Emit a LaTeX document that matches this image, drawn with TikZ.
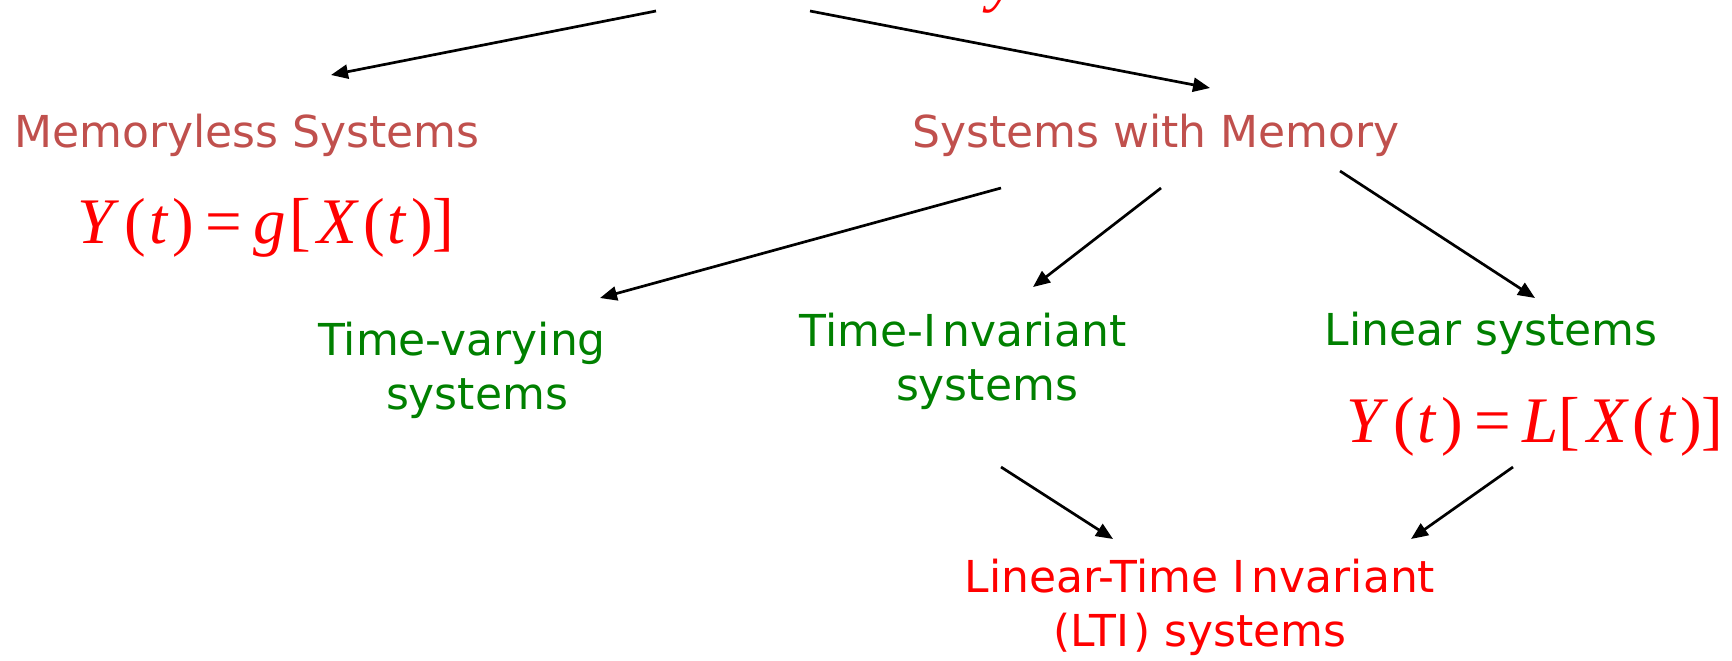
\documentclass[tikz,border=0pt]{standalone}
\usepackage{fontspec}
\setmainfont{DejaVu Sans}
\newfontfamily\eqfont{Liberation Serif}
\usetikzlibrary{arrows.meta}
\definecolor{brownred}{HTML}{C0504D}
\definecolor{leafgreen}{HTML}{008000}
\tikzset{
  lbl/.style={inner sep=0pt, anchor=base, align=center, font=\fontsize{22}{27}\selectfont},
  cat/.style={lbl, text=brownred},
  kind/.style={lbl, text=leafgreen},
  result/.style={lbl, text=red},
  formula/.style={inner sep=0pt, anchor=base, text=red, font=\eqfont\fontsize{32.5}{33}\selectfont},
  link/.style={line width=1.35pt, -{Triangle[length=8.5pt,width=7pt]}},
}
% Y(t) = f[X(t)] with spacing in the style of an equation editor
\newcommand{\sysmap}[1]{\textit{Y}\kern.08em(\kern.04em\textit{t}\kern.06em)\kern.18em=\kern.18em#1[\kern.1em\textit{X}\kern.06em(\kern.04em\textit{t}\kern.06em)]}
\begin{document}
\begin{tikzpicture}[x=0.5pt,y=-0.5pt]
  \useasboundingbox (0,0) rectangle (1732,660);

  % title, cut by the top edge
  \node[formula, font=\eqfont\fontsize{32}{32}\selectfont\itshape] (title) at (1003,-1) {y};

  % first level
  \node[cat] (mem)  at (247,147)  {Memoryless Systems};
  \node[cat] (wmem) at (1156,147) {Systems with Memory};
  \node[formula] (geq) at (266,243) {\sysmap{\textit{g}\kern.05em}};

  % kinds of systems with memory (base = last line; first lines sit a little left)
  \node[kind] (tv)  at (477,409)  {Time-varying\hspace*{15pt}\\systems};
  \node[kind] (ti)  at (987,400)  {Time-I\kern.15em nvariant\hspace*{24pt}\\systems};
  \node[kind] (lin) at (1491,345) {Linear systems};
  \node[formula] (leq) at (1535,442) {\sysmap{\textit{L}}};

  % combined class
  \node[result] (lti) at (1200,646) {Linear-Time I\kern.15em nvariant\\(LTI\kern.1em) systems};

  % connector end points
  \coordinate (t1) at (656,11);   \coordinate (m1) at (331,75);
  \coordinate (t2) at (810,11);   \coordinate (w1) at (1210,88);
  \coordinate (w2) at (1001,188); \coordinate (tv1) at (600,298);
  \coordinate (w3) at (1161,188); \coordinate (ti1) at (1033,287);
  \coordinate (w4) at (1340,171); \coordinate (li1) at (1535,298);
  \coordinate (ti2) at (1001,467); \coordinate (l1) at (1113,539);
  \coordinate (leq2) at (1513,467); \coordinate (l2) at (1411,539);

  \draw[link] (t1) -- (m1);
  \draw[link] (t2) -- (w1);
  \draw[link] (w2) -- (tv1);
  \draw[link] (w3) -- (ti1);
  \draw[link] (w4) -- (li1);
  \draw[link] (ti2) -- (l1);
  \draw[link] (leq2) -- (l2);
\end{tikzpicture}
\end{document}
